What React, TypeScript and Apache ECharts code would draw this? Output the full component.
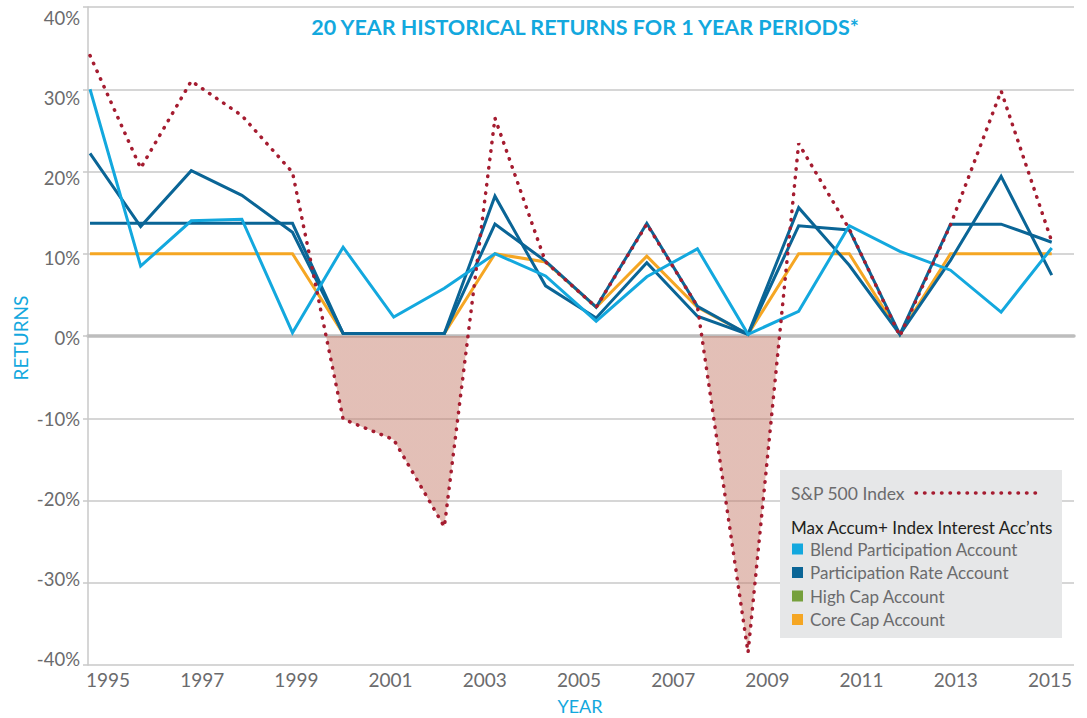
import React, { useEffect, useRef } from "react";
import * as echarts from "echarts";

const years = [1995, 1996, 1997, 1998, 1999, 2000, 2001, 2002, 2003, 2004, 2005, 2006, 2007, 2008, 2009, 2010, 2011, 2012, 2013, 2014];
const sp500 = [34.1, 20.4, 31.0, 26.8, 19.9, -10.1, -12.6, -23.2, 26.5, 9.0, 3.5, 13.6, 3.6, -38.5, 23.4, 13.0, 0.0, 13.5, 29.8, 11.5];
const blendParticipation = [30.0, 8.5, 14.0, 14.2, 0.4, 10.8, 2.3, 5.8, 10.0, 7.3, 1.8, 7.2, 10.6, 0.2, 3.0, 13.4, 10.3, 8.0, 2.9, 10.7];
const participationRate = [22.2, 13.3, 20.1, 17.1, 12.6, 0.3, 0.3, 0.3, 17.0, 6.1, 2.2, 8.9, 2.4, 0.2, 15.6, 8.6, 0.2, 9.2, 19.4, 7.4];
const highCap = [13.7, 13.7, 13.7, 13.7, 13.7, 0.3, 0.3, 0.3, 13.6, 9.1, 3.5, 13.7, 3.6, 0.2, 13.4, 12.9, 0.2, 13.6, 13.6, 11.4];
const coreCap = [10.0, 10.0, 10.0, 10.0, 10.0, 0.3, 0.3, 0.3, 10.0, 9.0, 3.5, 9.7, 3.5, 0.2, 10.0, 10.0, 0.2, 10.0, 10.0, 10.0];

const yearTickLabels = [1995, 1997, 1999, 2001, 2003, 2005, 2007, 2009, 2011, 2013, 2015];
const returnTickLabels = [-40, -30, -20, -10, 0, 10, 20, 30, 40];

const titleText = "20 YEAR HISTORICAL RETURNS FOR 1 YEAR PERIODS*";
const spLegendName = "S&P 500 Index";
const legendHeader = "Max Accum+ Index Interest Acc\u2019nts";
const accountNames = ["Blend Participation Account", "Participation Rate Account", "High Cap Account", "Core Cap Account"];

const CYAN = "#13a8de";
const DARK = "#0a6596";
const GREEN = "#76a03c";
const ORANGE = "#f5a623";
const RED = "#a51c30";
const FILL = "rgba(196,122,104,0.48)";
const GRID = "#c9c9c9";
const LABEL = "#6b6b6d";
const FONT = "Lato, 'Open Sans', sans-serif";

const legendSquareColors = [CYAN, DARK, GREEN, ORANGE];

function pairs(vals: number[]) {
  return years.map((y, i) => [y, vals[i]]);
}

export default function App() {
  const ref = useRef<HTMLDivElement>(null);
  useEffect(() => {
    if (!ref.current) return;
    const chart = echarts.init(ref.current, null, { renderer: "svg" });

    const lineSeries = (name: string, vals: number[], color: string, z: number) => ({
      name,
      type: "line",
      data: pairs(vals),
      xAxisIndex: 0,
      yAxisIndex: 0,
      symbol: "none",
      z,
      lineStyle: { color, width: 3, join: "miter" },
      itemStyle: { color },
    });

    const legendItems: any[] = [];
    accountNames.forEach((n, i) => {
      const cy = 549 + i * 23.5;
      legendItems.push({
        type: "rect",
        z: 101,
        shape: { x: 792, y: cy - 5.5, width: 11, height: 11 },
        style: { fill: legendSquareColors[i] },
      });
      legendItems.push({
        type: "text",
        z: 101,
        x: 810,
        y: cy,
        style: { text: n, fill: LABEL, font: `17px ${FONT}`, textVerticalAlign: "middle", textAlign: "left" },
      });
    });

    chart.setOption({
      animation: false,
      backgroundColor: "#ffffff",
      grid: { left: 88, right: 13, top: 7, bottom: 53 },
      xAxis: [
        {
          type: "value",
          min: 1994.96,
          max: 2014.44,
          axisLine: { show: true, onZero: true, lineStyle: { color: "#bdbdbd", width: 3.5 } },
          axisTick: { show: false },
          axisLabel: { show: false },
          splitLine: { show: false },
        },
        {
          type: "value",
          min: 1994.575,
          max: 2015.51,
          position: "bottom",
          axisLine: { show: false, onZero: false },
          axisTick: { show: false },
          splitLine: { show: false },
          axisLabel: {
            customValues: yearTickLabels,
            formatter: (v: number) => String(v),
            color: LABEL,
            fontSize: 19,
            fontFamily: FONT,
            margin: 5,
          },
        },
      ],
      yAxis: [
        {
          type: "value",
          min: -40,
          max: 40,
          interval: 10,
          axisLine: { show: true, lineStyle: { color: GRID, width: 1.5 } },
          axisTick: { show: true, length: 5, lineStyle: { color: GRID, width: 1.5 } },
          axisLabel: { show: false },
          splitLine: { show: true, lineStyle: { color: GRID, width: 1.5 } },
        },
        {
          type: "value",
          min: -40.75,
          max: 41.37,
          position: "left",
          axisLine: { show: false, onZero: false },
          axisTick: { show: false },
          splitLine: { show: false },
          axisLabel: {
            customValues: returnTickLabels,
            formatter: (v: number) => `${v}%`,
            color: LABEL,
            fontSize: 18.5,
            fontFamily: FONT,
            margin: 8,
          },
        },
      ],
      visualMap: {
        show: false,
        type: "piecewise",
        seriesIndex: 0,
        dimension: 1,
        pieces: [
          { gte: -60, lt: 0, color: FILL },
          { gte: 0, lte: 60, color: "rgba(255,255,255,0)" },
        ],
        outOfRange: { color: "rgba(255,255,255,0)" },
      },
      series: [
        {
          name: "negative",
          type: "line",
          data: pairs(sp500),
          xAxisIndex: 0,
          yAxisIndex: 0,
          symbol: "none",
          silent: true,
          z: 1,
          lineStyle: { opacity: 0, width: 0 },
          areaStyle: { opacity: 1 },
        },
        lineSeries(accountNames[3], coreCap, ORANGE, 2),
        lineSeries(accountNames[2], highCap, DARK, 3),
        lineSeries(accountNames[1], participationRate, DARK, 4),
        lineSeries(accountNames[0], blendParticipation, CYAN, 5),
        {
          name: spLegendName,
          type: "line",
          data: pairs(sp500),
          xAxisIndex: 0,
          yAxisIndex: 0,
          symbol: "none",
          z: 6,
          lineStyle: { color: RED, width: 3.5, type: [0.5, 8], cap: "round" },
          itemStyle: { color: RED },
        },
      ],
      graphic: [
        {
          type: "text",
          x: 585,
          y: 27,
          style: { text: titleText, fill: CYAN, font: `bold 21.5px ${FONT}`, textAlign: "center", textVerticalAlign: "middle" },
        },
        {
          type: "text",
          x: 20,
          y: 338,
          rotation: Math.PI / 2,
          style: { text: "RETURNS", fill: CYAN, font: `19px ${FONT}`, textAlign: "center", textVerticalAlign: "middle" },
        },
        {
          type: "text",
          x: 580,
          y: 706,
          style: { text: "YEAR", fill: CYAN, font: `18px ${FONT}`, textAlign: "center", textVerticalAlign: "middle" },
        },
        {
          type: "rect",
          z: 100,
          shape: { x: 780, y: 470, width: 282, height: 168 },
          style: { fill: "#e6e7e8" },
        },
        {
          type: "text",
          z: 101,
          x: 791,
          y: 493,
          style: { text: spLegendName, fill: LABEL, font: `17.5px ${FONT}`, textVerticalAlign: "middle", textAlign: "left" },
        },
        {
          type: "line",
          z: 101,
          shape: { x1: 916, y1: 493, x2: 1040, y2: 493 },
          style: { stroke: RED, lineWidth: 3.5, lineDash: [0.5, 8], lineCap: "round" },
        },
        {
          type: "text",
          z: 101,
          x: 791,
          y: 527,
          style: { text: legendHeader, fill: "#231f20", font: `17px ${FONT}`, textVerticalAlign: "middle", textAlign: "left" },
        },
        ...legendItems,
      ],
    });
    return () => chart.dispose();
  }, []);
  return <div ref={ref} style={{ position: "fixed", left: 0, top: 0, width: 1087, height: 718 }} />;
}
